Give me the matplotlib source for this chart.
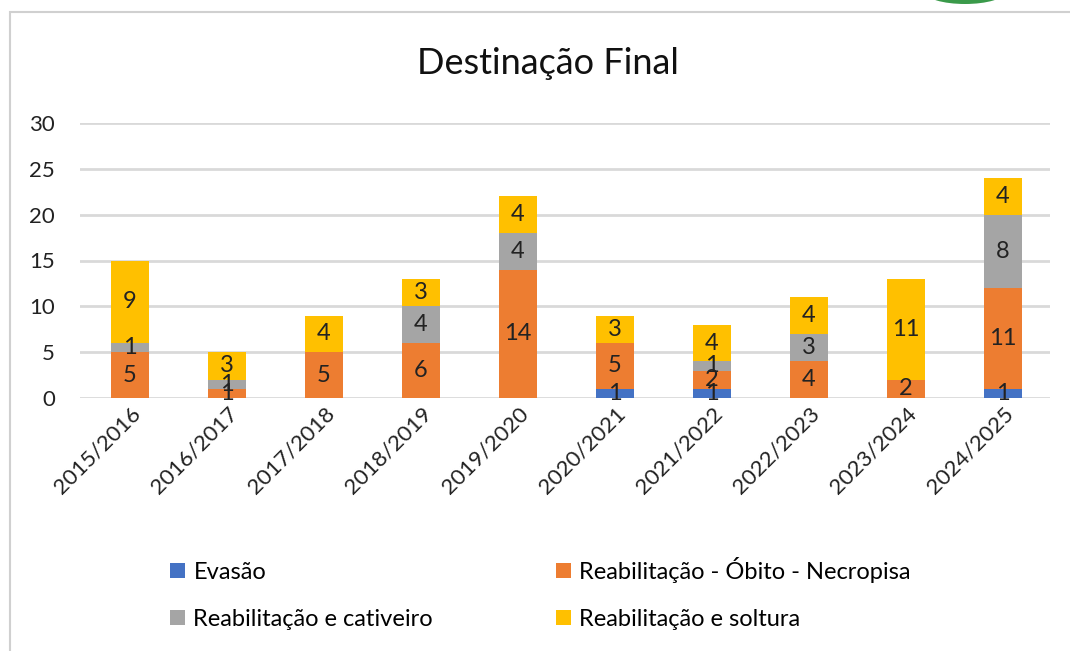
import matplotlib
matplotlib.use("Agg")
import matplotlib.pyplot as plt
from matplotlib.patches import Rectangle, Ellipse
import numpy as np

plt.rcParams['font.family'] = ['Lato', 'DejaVu Sans']

categories = ["2015/2016", "2016/2017", "2017/2018", "2018/2019", "2019/2020",
              "2020/2021", "2021/2022", "2022/2023", "2023/2024", "2024/2025"]
series_names = ["Evasão", "Reabilitação - Óbito - Necropisa",
                "Reabilitação e cativeiro", "Reabilitação e soltura"]
evasao    = [0, 0, 0, 0, 0, 1, 1, 0, 0, 1]
obito     = [5, 1, 5, 6, 14, 5, 2, 4, 2, 11]
cativeiro = [1, 1, 0, 4, 4, 0, 1, 3, 0, 8]
soltura   = [9, 3, 4, 3, 4, 3, 4, 4, 11, 4]
colors = ["#4472C4", "#ED7D31", "#A5A5A5", "#FFC000"]
yticks = [0, 5, 10, 15, 20, 25, 30]

W, H = 1070, 651
fig = plt.figure(figsize=(W / 100, H / 100), dpi=100)
fig.patch.set_facecolor("white")

# chart frame
fig.add_artist(Rectangle((10 / W, -0.05), 1.2, 1 - 12 / H + 0.05, transform=fig.transFigure,
                         fill=False, edgecolor="#D0D0D0", linewidth=1.5))
# logo fragment top right
fig.add_artist(Ellipse((965 / W, 1 + 8 / H), 80 / W, 24 / H, transform=fig.transFigure,
                       facecolor="#3A9A4A", edgecolor="none"))

ax = fig.add_axes([80 / W, (H - 398) / H, (1050 - 80) / W, (398 - 123) / H])
x = np.arange(len(categories))
width = 0.39
bottom = np.zeros(len(categories))
handles = []
for name, vals, c in zip(series_names, [evasao, obito, cativeiro, soltura], colors):
    vals = np.array(vals, dtype=float)
    bars = ax.bar(x, vals, width, bottom=bottom, color=c, label=name, zorder=3)
    handles.append(bars)
    for xi, b, v in zip(x, bottom, vals):
        if v > 0:
            ax.text(xi, b + v / 2, f"{int(v)}", ha="center", va="center",
                    fontsize=17, color="#222222", zorder=4)
    bottom += vals

ax.set_xlim(-0.515, 9.485)
ax.set_ylim(0, 30)
ax.set_yticks(yticks)
ax.yaxis.grid(True, color="#D9D9D9", linewidth=2)
ax.set_axisbelow(True)
for s in ax.spines.values():
    s.set_visible(False)
ax.tick_params(axis="both", length=0, labelsize=16, colors="#222222")
ax.tick_params(axis="y", pad=18)
ax.tick_params(axis="x", pad=4)
ax.set_xticks(x)
ax.set_xticklabels(categories, rotation=45, ha="right", rotation_mode="anchor")

fig.text(548 / W, 1 - 63 / H, "Destinação Final", ha="center", va="center",
         fontsize=26, color="#111111")

# legend, row-major order: Evasão, Óbito / cativeiro, soltura
order = [0, 2, 1, 3]
fig.legend([handles[i] for i in order], [series_names[i] for i in order],
           loc="upper left", bbox_to_anchor=(158 / W, 1 - 545 / H),
           ncol=2, frameon=False, fontsize=17, handlelength=0.65, handleheight=0.65,
           handletextpad=0.35, columnspacing=5.2, labelspacing=1.1, borderpad=0)

fig.savefig("out.png", dpi=100)
